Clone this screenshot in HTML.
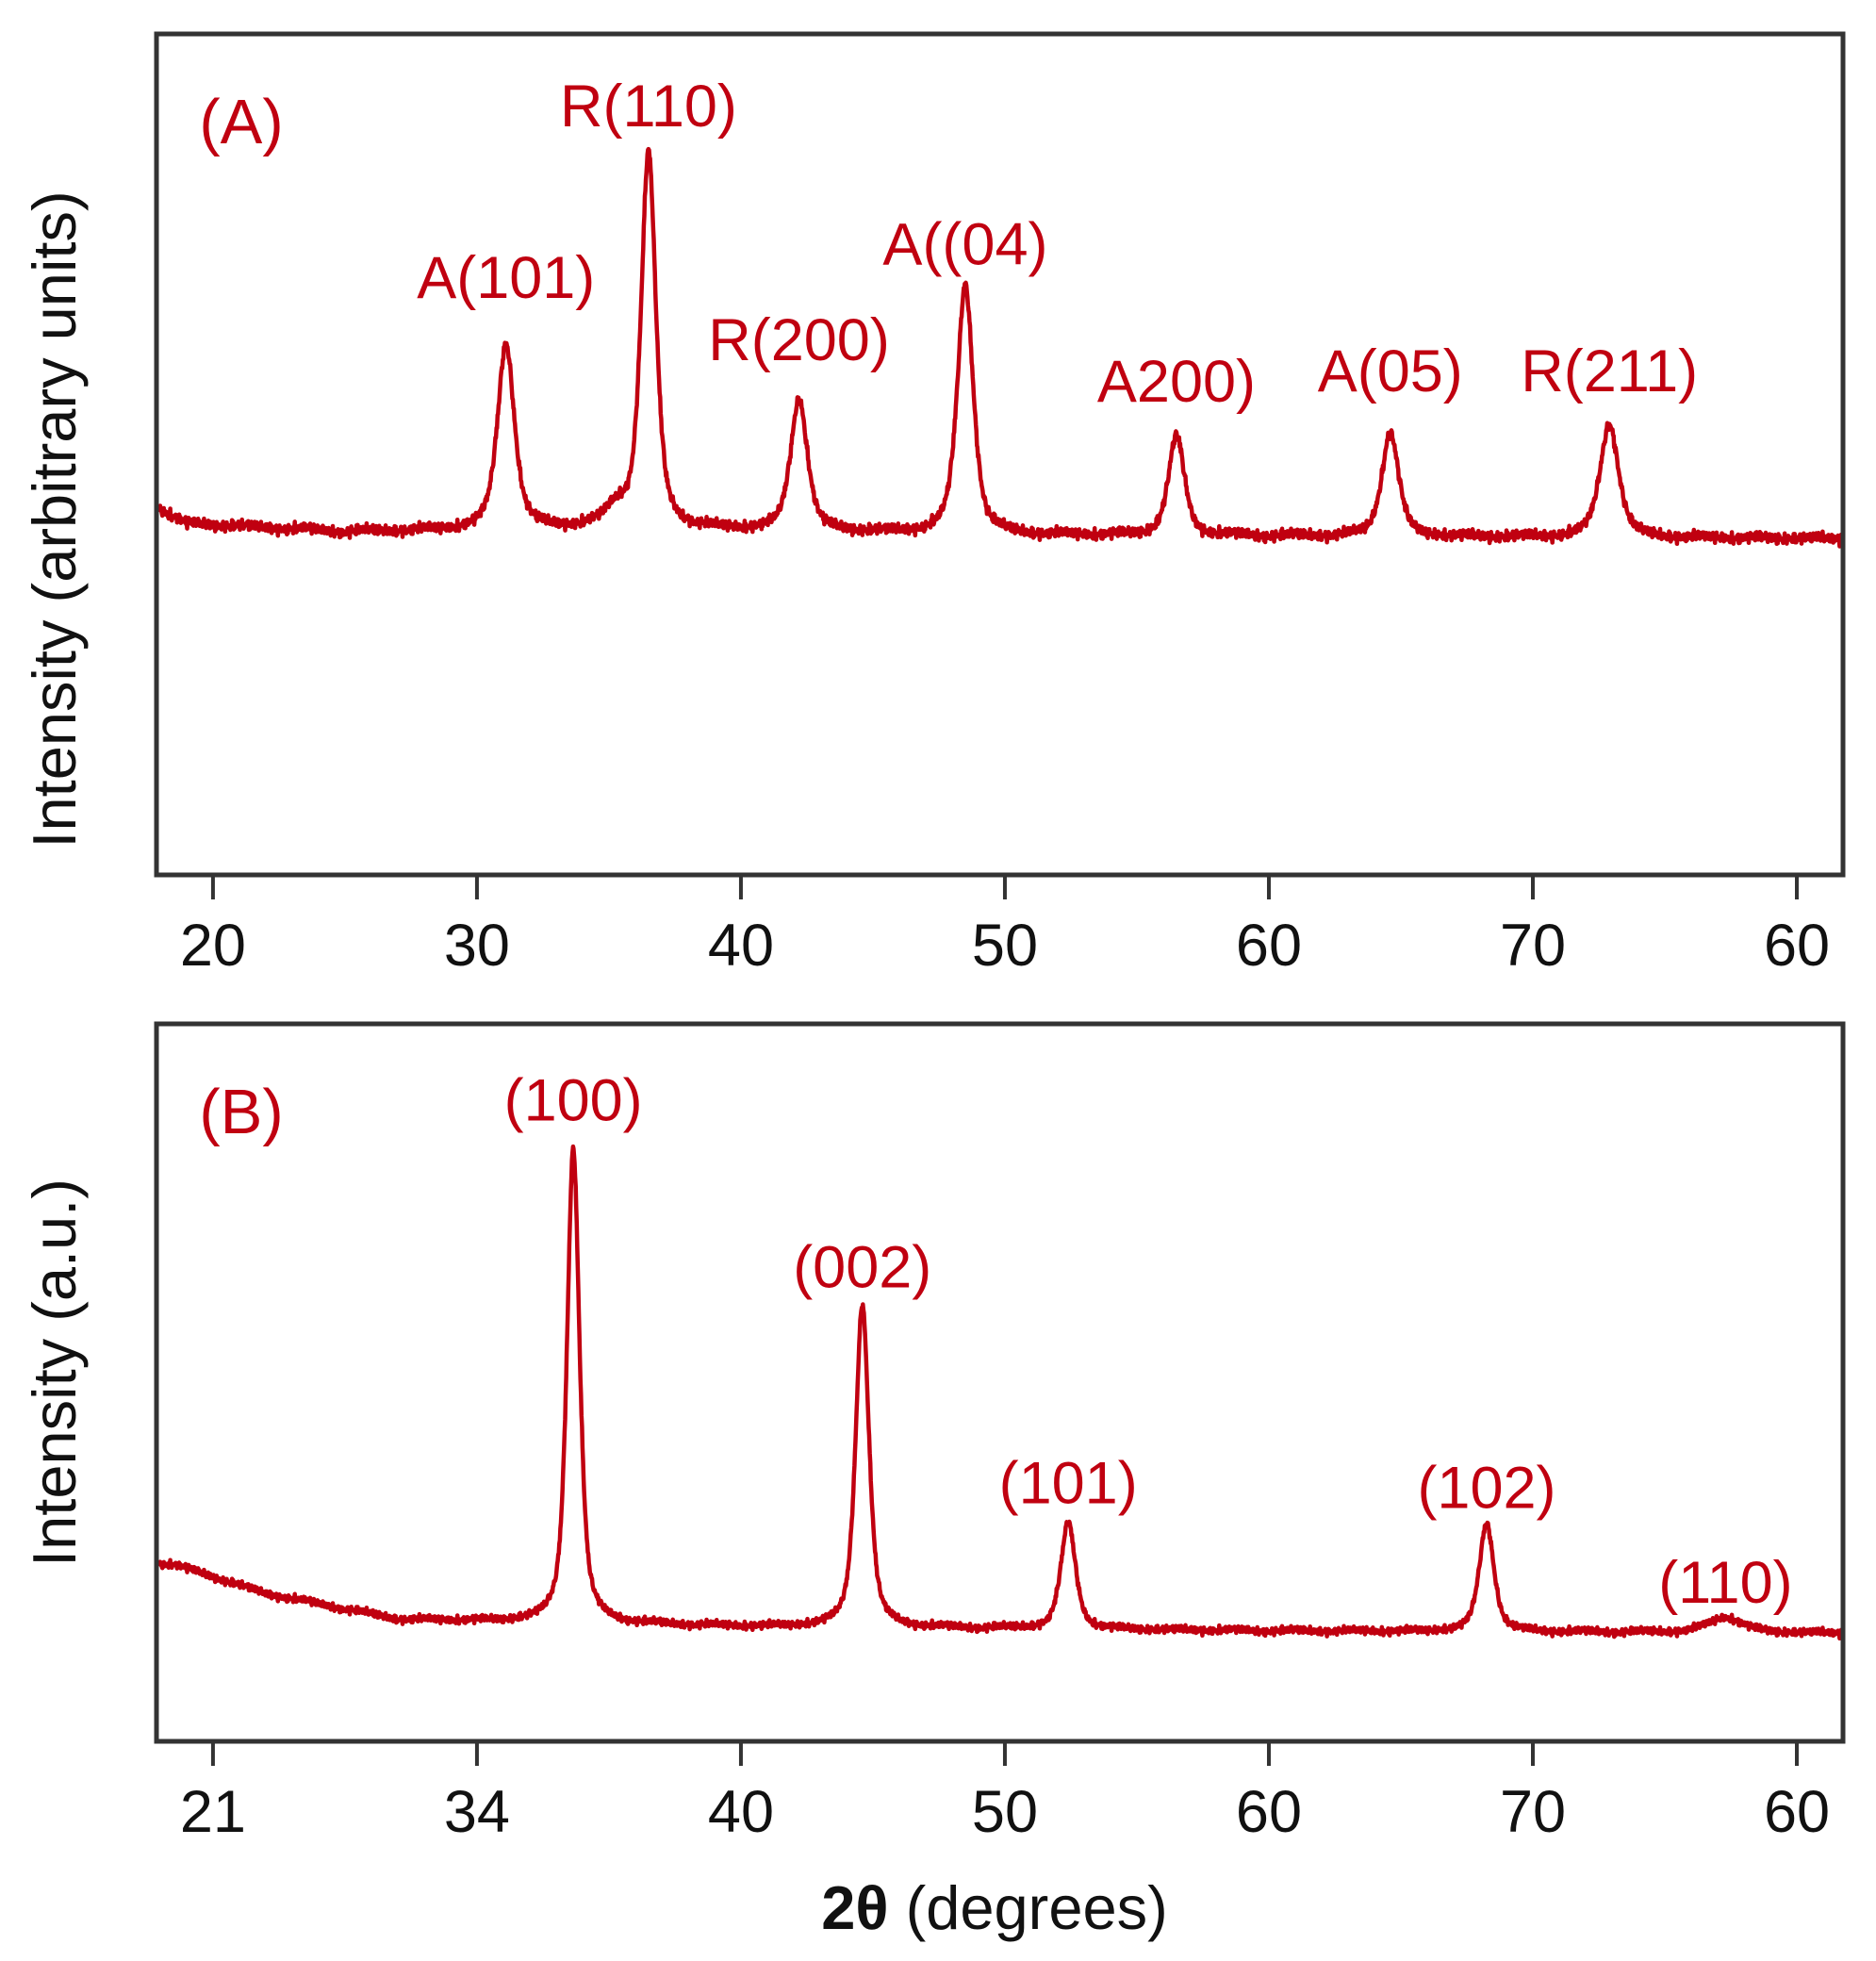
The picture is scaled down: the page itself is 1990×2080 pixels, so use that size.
<!DOCTYPE html>
<html><head><meta charset="utf-8"><style>
html,body{margin:0;padding:0;background:#fff;}
svg{display:block;}
text{font-family:"Liberation Sans",Arial,sans-serif;}
</style></head><body>
<svg id="chart" width="1990" height="2080" viewBox="0 0 1990 2080" xmlns="http://www.w3.org/2000/svg"></svg>
<script>
// ---- data ----
const tickValues = [20,30,40,50,60,70,80];
const tickLabelsA = ["20","30","40","50","60","70","60"];
const tickLabelsB = ["21","34","40","50","60","70","60"];
const baseXA = [18,19,25,35,50,81.8];
const baseYA = [43.5,41.8,40.8,41.2,40.4,40.0];
const peakPosA = [31.1,35.3,36.5,42.2,48.5,56.5,64.6,72.9];
const peakHA = [22.1,2.0,44.6,15.7,29.7,11.8,12.4,13.5];
const peakWA = [0.38,0.5,0.33,0.38,0.36,0.36,0.38,0.42];
const labelsA = ["A(101)","R(110)","R(200)","A((04)","A200)","A(05)","R(211)"];
const labelPosA = [31.1,36.5,42.2,48.5,56.5,64.6,72.9];
const labelValA = [68.6,89.0,61.2,72.6,56.3,57.5,57.5];
const baseXB = [18.5,22,27,40,60,81.8];
const baseYB = [24.7,20.6,17.0,16.0,15.4,15.1];
const peakPosB = [33.65,44.6,52.4,68.25,77.3];
const peakHB = [66.2,45.1,14.8,15.1,2.1];
const peakWB = [0.28,0.3,0.33,0.33,0.8];
const labelsB = ["(100)","(002)","(101)","(102)","(110)"];
const labelPosB = [33.65,44.6,52.4,68.25,77.3];
const labelValB = [86.5,63.3,33.2,32.5,19.3];

// ---- layout ----
const svg = document.getElementById('chart');
const NS = 'http://www.w3.org/2000/svg';
const L = 166, R = 1955;
const xMin = 17.86, xMax = 81.75;
const xs = v => L + (v - xMin) / (xMax - xMin) * (R - L);
const red = '#c00010';
function mk(tag, attrs, parent){const e=document.createElementNS(NS,tag);for(const k in attrs)e.setAttribute(k,attrs[k]);(parent||svg).appendChild(e);return e;}
function interp(xa,ya,x){if(x<=xa[0])return ya[0];for(let i=1;i<xa.length;i++){if(x<=xa[i]){const t=(x-xa[i-1])/(xa[i]-xa[i-1]);return ya[i-1]+t*(ya[i]-ya[i-1]);}}return ya[ya.length-1];}

function panel(id, top, bottom, bx, by, pp, ph, pw, labs, lp, lv, ticks, titleTxt, tag, noiseAmp){
  const ys = v => bottom - v/100*(bottom-top);
  const g = mk('g',{});
  
  
  let d='';
  for(let x=xMin+0.1;x<=xMax-0.02;x+=0.02){
    let y=interp(bx,by,x);
    for(let i=0;i<pp.length;i++){const u=(x-pp[i])/pw[i];y+=ph[i]*(0.6/(1+u*u)+0.4*Math.exp(-0.693*u*u));}
    y+=noiseAmp*(Math.sin(x*53.1)*0.4+Math.sin(x*131.7)*0.35+Math.sin(x*311.3)*0.3+Math.sin(x*977.1)*0.35+Math.sin(x*1731.9)*0.3);
    d+=(d?'L':'M')+xs(x).toFixed(1)+' '+ys(y).toFixed(1);
  }
  const p=mk('path',{d:d,fill:'none',stroke:red,'stroke-width':4.5,'stroke-linejoin':'round'},g);
  
  
  const f=mk('rect',{x:L,y:top,width:R-L,height:bottom-top,fill:'none',stroke:'#333','stroke-width':5},g);
  
  
  ticks.forEach((t,i)=>{
    const tx=xs(tickValues[i]);
    const tl=mk('line',{x1:tx,y1:bottom,x2:tx,y2:bottom+26,stroke:'#333','stroke-width':4},g);
    
    
    const tt=mk('text',{x:tx,y:bottom+96,'font-size':63,'text-anchor':'middle',fill:'#111'},g);
    tt.textContent=t;
    
    
  });
  labs.forEach((s,i)=>{
    const t=mk('text',{x:xs(lp[i]),y:ys(lv[i]),'font-size':63,'text-anchor':'middle',fill:red},g);
    t.textContent=s;
    
    
  });
  const pt=mk('text',{x:256,y:top+116,'font-size':67,'text-anchor':'middle',fill:red},g);
  pt.textContent=tag;
  
  
  const cy=titleTxt.length>20?551:1456;
  const yt=mk('text',{x:0,y:0,'font-size':65,'text-anchor':'middle',fill:'#111',transform:'translate(80,'+cy+') rotate(-90)'},g);
  yt.textContent=titleTxt;
  
  
}
panel('a',36,928,baseXA,baseYA,peakPosA,peakHA,peakWA,labelsA,labelPosA,labelValA,tickLabelsA,'Intensity (arbitrary units)','(A)',0.6);
panel('b',1086,1847,baseXB,baseYB,peakPosB,peakHB,peakWB,labelsB,labelPosB,labelValB,tickLabelsB,'Intensity (a.u.)','(B)',0.5);
const xt=mk('text',{x:1055,y:2046,'font-size':65,'text-anchor':'middle',fill:'#111'});
xt.innerHTML='<tspan font-weight="bold">2θ</tspan> (degrees)';


</script>
</body></html>
